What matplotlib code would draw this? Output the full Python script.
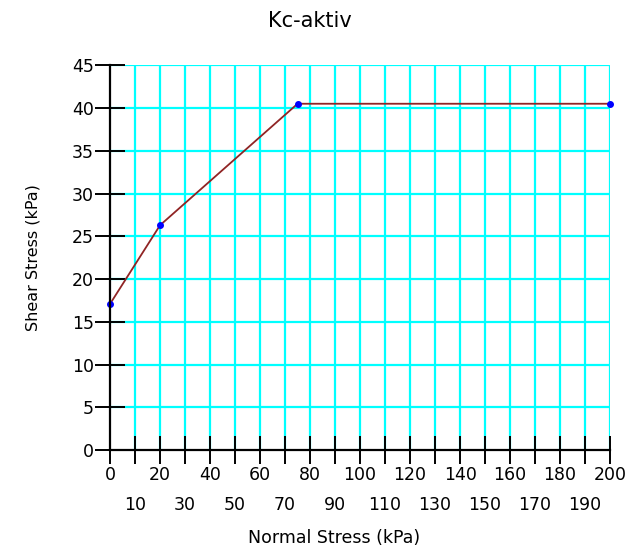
import matplotlib
matplotlib.use("Agg")
import matplotlib.pyplot as plt

plt.rcParams['font.family'] = ['DejaVu Sans']

normal_stress = [0, 20, 75, 200]
shear_stress = [17.1, 26.3, 40.5, 40.5]

x_major = list(range(0, 201, 20))
x_minor = list(range(10, 200, 20))
y_ticks = list(range(0, 46, 5))

fig = plt.figure(figsize=(6.29, 5.53), dpi=100)
ax = fig.add_axes([0.175, 0.186, 0.795, 0.696])

ax.set_xlim(0, 200)
ax.set_ylim(0, 45)

# cyan grid every 10 kPa horizontally, every 5 kPa vertically
for xv in range(10, 201, 10):
    ax.axvline(xv, color='#00ffff', lw=1.6, zorder=1)
for yv in range(5, 46, 5):
    ax.axhline(yv, color='#00ffff', lw=1.6, zorder=1)

ax.plot(normal_stress, shear_stress, color='#902424', lw=1.3, zorder=3)
ax.plot(normal_stress, shear_stress, 'o', color='#0000ff', ms=4, zorder=4, clip_on=False)

for side in ['top', 'right']:
    ax.spines[side].set_visible(False)
for side in ['left', 'bottom']:
    ax.spines[side].set_linewidth(1.6)
    ax.spines[side].set_color('black')
    ax.spines[side].set_zorder(5)

# two staggered rows of x tick labels
ax.set_xticks(x_major)
ax.set_xticklabels([str(v) for v in x_major])
ax.set_xticks(x_minor, minor=True)
ax.set_xticklabels([str(v) for v in x_minor], minor=True)
ax.tick_params(axis='x', which='both', direction='inout', length=20, width=1.4,
               labelsize=12.5, colors='black')
ax.tick_params(axis='x', which='major', pad=1.5)
ax.tick_params(axis='x', which='minor', pad=23)

ax.set_yticks(y_ticks)
ax.set_yticklabels([str(v) for v in y_ticks])
ax.tick_params(axis='y', direction='inout', length=22, width=1.4,
               labelsize=12.5, pad=0.5, colors='black')

ax.set_xlabel('Normal Stress (kPa)', fontsize=12.5)
ax.xaxis.set_label_coords(0.448, -0.205)
ax.set_ylabel('Shear Stress (kPa)', fontsize=11.5)
ax.yaxis.set_label_coords(-0.14, 0.5)
ax.set_title('Kc-aktiv', fontsize=15, x=0.40, y=1.10, pad=0)

fig.savefig('out.png', dpi=100)
